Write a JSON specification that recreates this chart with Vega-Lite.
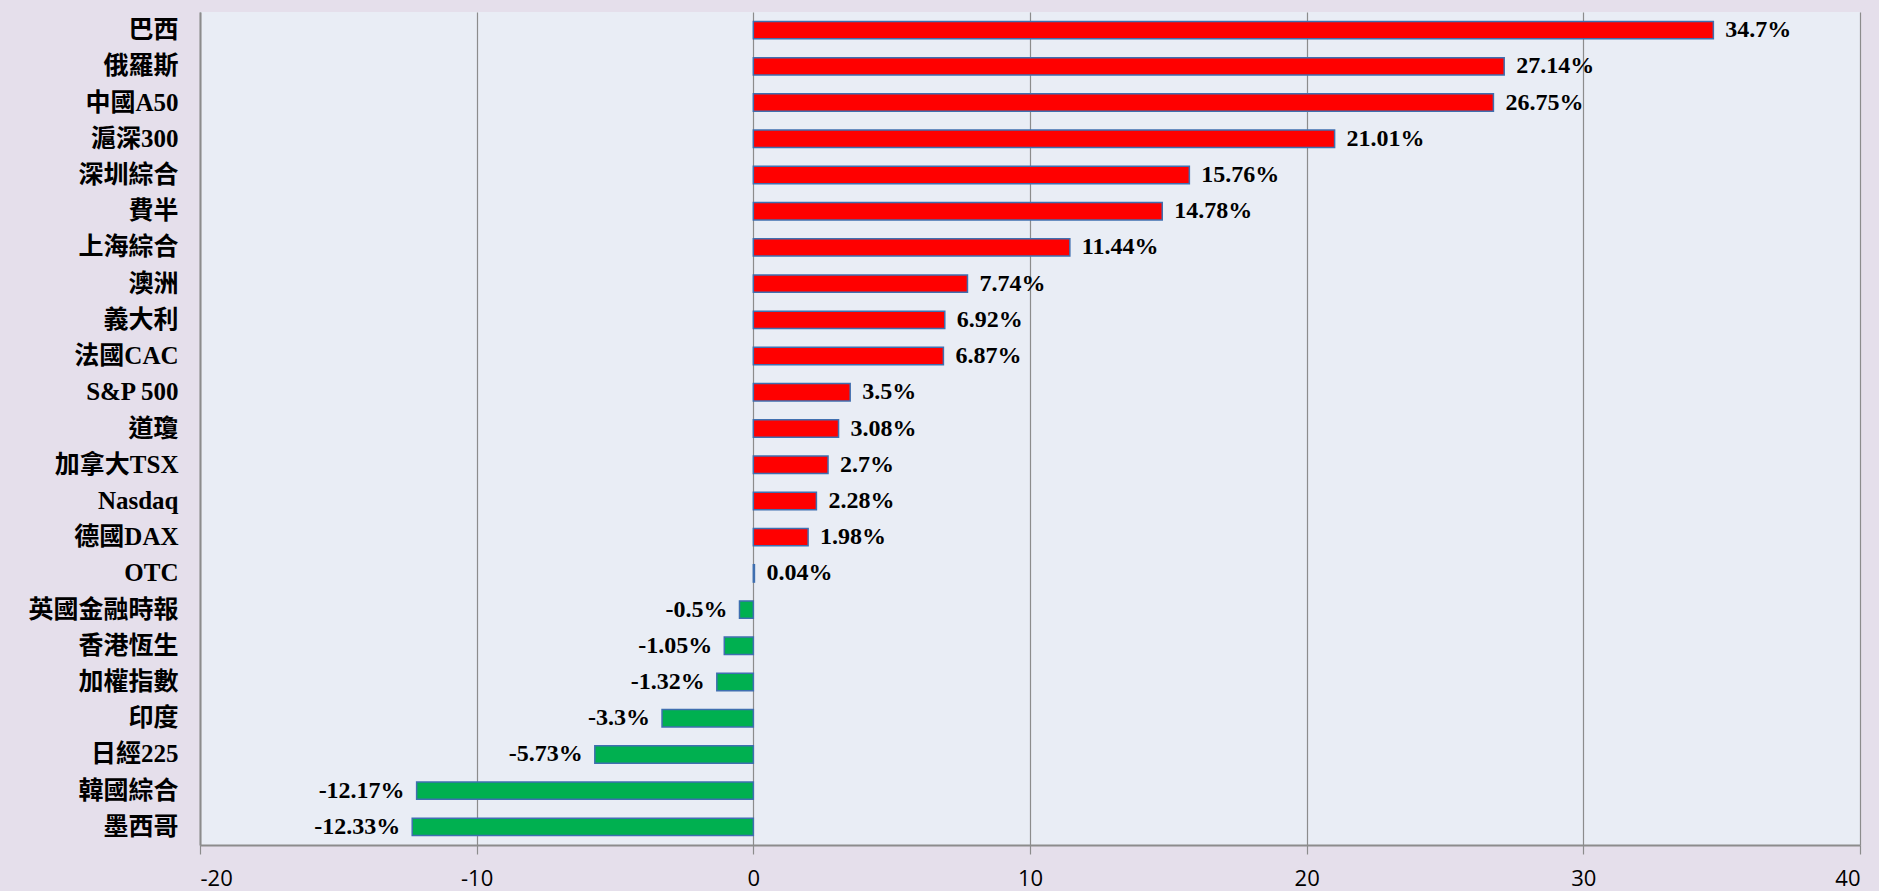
{
  "$schema": "https://vega.github.io/schema/vega-lite/v6.json",
  "autosize": {"type": "none"},
  "width": 1660,
  "height": 833,
  "padding": {"left": 200, "top": 12, "right": 19, "bottom": 46},
  "background": "#E5DFEB",
  "config": {
    "view": {"fill": "#E9EDF5", "stroke": null},
    "font": "Liberation Serif"
  },
  "data": {
    "values": [
      {"name": "巴西", "v": 34.7},
      {"name": "俄羅斯", "v": 27.14},
      {"name": "中國A50", "v": 26.75},
      {"name": "滬深300", "v": 21.01},
      {"name": "深圳綜合", "v": 15.76},
      {"name": "費半", "v": 14.78},
      {"name": "上海綜合", "v": 11.44},
      {"name": "澳洲", "v": 7.74},
      {"name": "義大利", "v": 6.92},
      {"name": "法國CAC", "v": 6.87},
      {"name": "S&P 500", "v": 3.5},
      {"name": "道瓊", "v": 3.08},
      {"name": "加拿大TSX", "v": 2.7},
      {"name": "Nasdaq", "v": 2.28},
      {"name": "德國DAX", "v": 1.98},
      {"name": "OTC", "v": 0.04},
      {"name": "英國金融時報", "v": -0.5},
      {"name": "香港恆生", "v": -1.05},
      {"name": "加權指數", "v": -1.32},
      {"name": "印度", "v": -3.3},
      {"name": "日經225", "v": -5.73},
      {"name": "韓國綜合", "v": -12.17},
      {"name": "墨西哥", "v": -12.33}
    ]
  },
  "transform": [{"calculate": "datum.v + '%'", "as": "label"}],
  "encoding": {
    "y": {
      "field": "name", "type": "nominal", "sort": null,
      "scale": {"paddingInner": 0.52, "paddingOuter": 0.26},
      "axis": {
        "title": null, "ticks": false, "labelPadding": 22,
        "labelFont": "Liberation Serif, Noto Sans CJK TC", "labelFontWeight": "bold",
        "labelFontSize": 25, "labelColor": "#000000",
        "domainColor": "#8C8C8C", "domainWidth": 2, "grid": false
      }
    }
  },
  "layer": [
    {
      "mark": {"type": "bar", "stroke": "#3F6FB0", "strokeWidth": 1.5},
      "encoding": {
        "x": {
          "field": "v", "type": "quantitative",
          "scale": {"domain": [-20, 40], "nice": false},
          "axis": {
            "title": null, "values": [-20, -10, 0, 10, 20, 30, 40],
            "labelExpr": "'' + datum.value",
            "grid": true, "gridColor": "#8C8C8C", "gridWidth": 1.2,
            "domainColor": "#8C8C8C", "domainWidth": 2,
            "tickColor": "#8C8C8C", "tickSize": 9, "tickWidth": 1.2,
            "labelPadding": 14, "labelFontSize": 22, "labelFont": "Open Sans",
            "labelColor": "#000000"
          }
        },
        "color": {
          "condition": {"test": "datum.v >= 0", "value": "#FF0000"},
          "value": "#00B050"
        }
      }
    },
    {
      "transform": [{"filter": "datum.v >= 0"}],
      "mark": {"type": "text", "align": "left", "dx": 12, "fontSize": 24, "fontWeight": "bold", "font": "Liberation Serif", "color": "#000000", "baseline": "middle"},
      "encoding": {
        "x": {"field": "v", "type": "quantitative"},
        "text": {"field": "label"}
      }
    },
    {
      "transform": [{"filter": "datum.v < 0"}],
      "mark": {"type": "text", "align": "right", "dx": -12, "fontSize": 24, "fontWeight": "bold", "font": "Liberation Serif", "color": "#000000", "baseline": "middle"},
      "encoding": {
        "x": {"field": "v", "type": "quantitative"},
        "text": {"field": "label"}
      }
    }
  ]
}
